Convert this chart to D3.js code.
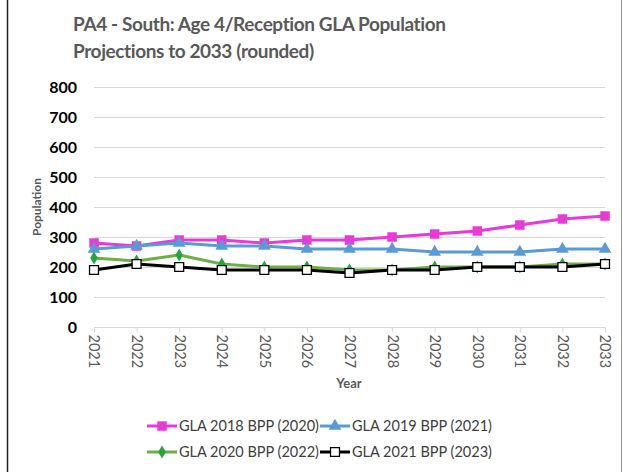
<!DOCTYPE html>
<html>
<head>
<meta charset="UTF-8">
<title>PA4 - South: Age 4/Reception GLA Population Projections</title>
<script src="https://d3js.org/d3.v7.min.js"></script>
<style>
body { margin: 0; background: #fff; }
svg { display: block; font-family: Lato, "Open Sans", sans-serif; }
</style>
</head>
<body>
<div id="vis"></div>
<script>
// data
var years = ["2021","2022","2023","2024","2025","2026","2027","2028","2029","2030","2031","2032","2033"];
var yTicks = [0, 100, 200, 300, 400, 500, 600, 700, 800];
var seriesNames = ["GLA 2018 BPP (2020)", "GLA 2019 BPP (2021)", "GLA 2020 BPP (2022)", "GLA 2021 BPP (2023)"];
var gla2018 = [280, 270, 290, 290, 280, 290, 290, 300, 310, 320, 340, 360, 370];
var gla2019 = [260, 270, 280, 270, 270, 260, 260, 260, 250, 250, 250, 260, 260];
var gla2020 = [230, 220, 240, 210, 200, 200, 190, 190, 200, 200, 200, 210, 210];
var gla2021 = [190, 210, 200, 190, 190, 190, 180, 190, 190, 200, 200, 200, 210];

var width = 623, height = 472;

var svg = d3.select("#vis").append("svg")
	.attr("width", width)
	.attr("height", height);

// outer frame
svg.append("line").attr("x1", 7.5).attr("x2", 7.5).attr("y1", 0).attr("y2", height)
	.attr("stroke", "#222").attr("stroke-width", 1.5);
svg.append("line").attr("x1", 621.5).attr("x2", 621.5).attr("y1", 0).attr("y2", height)
	.attr("stroke", "#999").attr("stroke-width", 1);

// title
var title = svg.append("text")
	.attr("fill", "#595959")
	.style("font-size", "19px")
	.style("letter-spacing", "-0.4px")
	.style("font-weight", "bold");
title.append("tspan").attr("x", 73).attr("y", 31).text("PA4 - South: Age 4/Reception GLA Population");
title.append("tspan").attr("x", 73).attr("y", 58).text("Projections to 2033 (rounded)");

var x = d3.scalePoint().domain(years).range([94, 605]);
var y = d3.scaleLinear().domain([0, 800]).range([327, 87]);

// gridlines
svg.append("g").selectAll("line")
	.data(yTicks.filter(function(d) { return d > 0; }))
	.enter().append("line")
	.attr("x1", 94).attr("x2", 605)
	.attr("y1", function(d) { return Math.round(y(d)) + 0.5; })
	.attr("y2", function(d) { return Math.round(y(d)) + 0.5; })
	.attr("stroke", "#d9d9d9").attr("stroke-width", 1);

// y axis labels
var yAxis = d3.axisLeft(y).tickValues(yTicks).tickSize(0).tickPadding(0);
var gy = svg.append("g").attr("transform", "translate(77,0)").call(yAxis);
gy.select(".domain").remove();
gy.selectAll("text")
	.attr("fill", "#000")
	.style("font-size", "16px")
	.style("font-weight", "bold")
	.style("font-family", "Lato, sans-serif");

// x axis
var xAxis = d3.axisBottom(x).tickSize(5).tickPadding(4);
var gx = svg.append("g").attr("transform", "translate(0," + (Math.round(y(0)) + 0.5) + ")").call(xAxis);
gx.select(".domain").attr("stroke", "#d9d9d9").attr("d", "M94,0H605");
gx.selectAll(".tick line").attr("stroke", "#d9d9d9");
gx.selectAll("text")
	.attr("fill", "#595959")
	.attr("transform", "rotate(90)")
	.attr("text-anchor", "start")
	.attr("x", 7).attr("y", 0).attr("dy", "0.35em")
	.style("font-size", "14.5px")
	.style("font-family", "Lato, sans-serif");

// axis titles
svg.append("text")
	.attr("transform", "translate(41," + y(400) + ") rotate(-90)")
	.attr("text-anchor", "middle")
	.attr("fill", "#595959")
	.style("font-size", "12px")
	.style("font-weight", "bold")
	.text("Population");
svg.append("text")
	.attr("x", 349).attr("y", 388)
	.attr("text-anchor", "middle")
	.attr("fill", "#595959")
	.style("font-size", "13px")
	.style("font-weight", "bold")
	.text("Year");

// series
var series = [
	{name: seriesNames[0], values: gla2018, line: "#e83ad9", fill: "#e83ad9", stroke: "none", shape: d3.symbolSquare, size: 90},
	{name: seriesNames[1], values: gla2019, line: "#5b9bd5", fill: "#5b9bd5", stroke: "none", shape: d3.symbolTriangle, size: 70},
	{name: seriesNames[2], values: gla2020, line: "#70ad47", fill: "#22a73c", stroke: "none", shape: d3.symbolDiamond, size: 50},
	{name: seriesNames[3], values: gla2021, line: "#000000", fill: "#ffffff", stroke: "#000", shape: d3.symbolSquare, size: 80}
];

var line = d3.line()
	.x(function(d, i) { return x(years[i]); })
	.y(function(d) { return y(d); });

series.forEach(function(s) {
	var g = svg.append("g");
	g.append("path")
		.datum(s.values)
		.attr("d", line)
		.attr("fill", "none")
		.attr("stroke", s.line)
		.attr("stroke-width", 3)
		.attr("stroke-linejoin", "round");
	g.selectAll("path.pt")
		.data(s.values)
		.enter().append("path")
		.attr("class", "pt")
		.attr("transform", function(d, i) { return "translate(" + x(years[i]) + "," + y(d) + ")"; })
		.attr("d", d3.symbol().type(s.shape).size(s.size))
		.attr("fill", s.fill)
		.attr("stroke", s.stroke)
		.attr("stroke-width", 1.3);
});

// legend
var legendPos = [[147, 426], [320, 426], [147, 452], [320, 452]];
series.forEach(function(s, i) {
	var lg = svg.append("g").attr("transform", "translate(" + legendPos[i][0] + "," + legendPos[i][1] + ")");
	lg.append("line").attr("x1", 0).attr("x2", 30).attr("y1", 0).attr("y2", 0)
		.attr("stroke", s.line).attr("stroke-width", 3);
	lg.append("path")
		.attr("transform", "translate(15,0)")
		.attr("d", d3.symbol().type(s.shape).size(s.size))
		.attr("fill", s.fill)
		.attr("stroke", s.stroke)
		.attr("stroke-width", 1.3);
	lg.append("text")
		.attr("x", 32).attr("y", 0).attr("dy", "0.35em")
		.attr("fill", "#404040")
		.style("font-size", "14.5px")
		.text(s.name);
});
</script>
</body>
</html>
